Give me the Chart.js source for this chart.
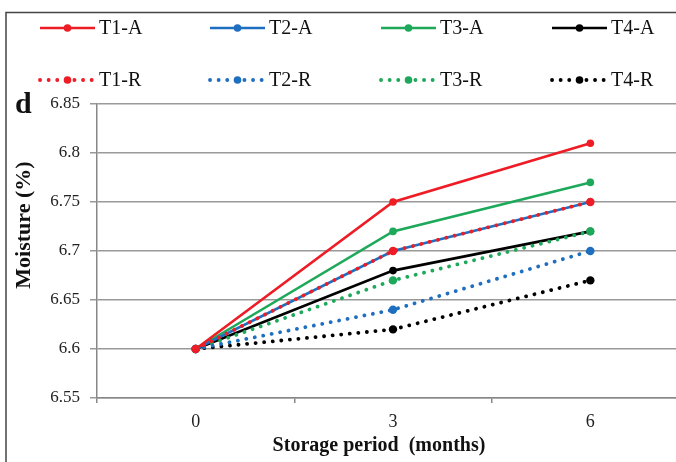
<!DOCTYPE html>
<html>
<head>
<meta charset="utf-8">
<script src="https://cdn.jsdelivr.net/npm/chart.js@4/dist/chart.umd.min.js"></script>
<style>
  html, body { margin: 0; padding: 0; overflow: hidden; background: #fff; }
  #wrap { width: 700px; height: 462px; }
</style>
</head>
<body>
<div id="wrap"><canvas id="moistChart" width="700" height="462"></canvas></div>
<script>
// dados do gráfico
const months = ['0', '3', '6'];
const t1a = [6.60, 6.75, 6.81];
const t2a = [6.60, 6.70, 6.75];
const t3a = [6.60, 6.72, 6.77];
const t4a = [6.60, 6.68, 6.72];
const t1r = [6.60, 6.70, 6.75];
const t2r = [6.60, 6.64, 6.70];
const t3r = [6.60, 6.67, 6.72];
const t4r = [6.60, 6.62, 6.67];
const yTicks = [6.55, 6.6, 6.65, 6.7, 6.75, 6.8, 6.85];

const SERIF = "'Liberation Serif', 'Times New Roman', serif";
Chart.defaults.font.family = SERIF;

const RED = '#ee1c25', BLUE = '#1f6fc0', GREEN = '#1ea95a', BLACK = '#000000';
const DOT = [0.1, 8.5];

function serie(label, data, color, dotted) {
  return {
    label: label,
    data: data,
    borderColor: color,
    backgroundColor: color,
    pointBackgroundColor: color,
    pointBorderWidth: 0,
    pointRadius: dotted ? 4.2 : 3.8,
    borderWidth: dotted ? 3.8 : 2.6,
    borderDash: dotted ? DOT : [],
    borderCapStyle: dotted ? 'round' : 'butt',
    tension: 0,
    fill: false,
    order: dotted ? 0 : 1
  };
}

const datasets = [
  serie('T1-A', t1a, RED, false),
  serie('T2-A', t2a, BLUE, false),
  serie('T3-A', t3a, GREEN, false),
  serie('T4-A', t4a, BLACK, false),
  serie('T1-R', t1r, RED, true),
  serie('T2-R', t2r, BLUE, true),
  serie('T3-R', t3r, GREEN, true),
  serie('T4-R', t4r, BLACK, true)
];

// moldura, legenda, letra "d" e títulos dos eixos
const extras = {
  id: 'extras',
  beforeDraw(chart) {
    const c = chart.ctx;
    c.save();
    c.fillStyle = '#fff';
    c.fillRect(0, 0, chart.width, chart.height);
    c.strokeStyle = '#444';
    c.lineWidth = 1.5;
    c.beginPath();
    c.moveTo(6, chart.height);
    c.lineTo(6, 12.5);
    c.lineTo(chart.width, 12.5);
    c.stroke();
    c.restore();
  },
  afterDraw(chart) {
    const c = chart.ctx;
    const cols = [40, 210, 381, 552];
    const rows = [28, 80];
    c.save();
    chart.data.datasets.forEach((ds, i) => {
      const x0 = cols[i % 4], y = rows[Math.floor(i / 4)];
      c.strokeStyle = ds.borderColor;
      c.lineWidth = ds.borderWidth;
      c.lineCap = ds.borderCapStyle;
      c.setLineDash(ds.borderDash);
      c.beginPath();
      c.moveTo(x0, y);
      c.lineTo(x0 + 55, y);
      c.stroke();
      c.setLineDash([]);
      c.fillStyle = ds.borderColor;
      c.beginPath();
      c.arc(x0 + 27.5, y, 3.8, 0, Math.PI * 2);
      c.fill();
      c.fillStyle = '#111';
      c.font = '20px ' + SERIF;
      c.textBaseline = 'middle';
      c.textAlign = 'left';
      c.fillText(ds.label, x0 + 59, y + 1);
    });
    c.fillStyle = '#111';
    c.font = 'bold 30px ' + SERIF;
    c.textBaseline = 'alphabetic';
    c.fillText('d', 15, 113);

    c.font = 'bold 20px ' + SERIF;
    c.textAlign = 'center';
    c.textBaseline = 'middle';
    c.fillText('Storage period  (months)', 379, 446);

    c.translate(24, 225);
    c.rotate(-Math.PI / 2);
    c.font = 'bold 22px ' + SERIF;
    c.fillText('Moisture (%)', 0, 0);
    c.restore();
  }
};

const ctx = document.getElementById('moistChart').getContext('2d');
const moistChart = new Chart(ctx, {
  type: 'line',
  data: { labels: months, datasets: datasets },
  plugins: [extras],
  options: {
    responsive: false,
    animation: false,
    layout: { padding: { top: 104, right: 11, bottom: 8, left: 0 } },
    plugins: {
      legend: { display: false },
      tooltip: { enabled: false }
    },
    scales: {
      x: {
        offset: true,
        grid: {
          offset: true,
          drawOnChartArea: false,
          drawTicks: true,
          tickLength: 5,
          color: '#888',
          lineWidth: 1.5
        },
        border: { color: '#888', width: 1.5 },
        ticks: {
          color: '#222',
          padding: 8,
          font: { family: SERIF, size: 18 }
        },
        afterFit(scale) { scale.height = 56; }
      },
      y: {
        min: 6.55,
        max: 6.85,
        afterBuildTicks(scale) { scale.ticks = yTicks.map(v => ({ value: v })); },
        grid: { color: '#999', lineWidth: 1.5, tickLength: 7 },
        border: { color: '#888', width: 1.5 },
        ticks: {
          color: '#222',
          padding: 10,
          font: { family: SERIF, size: 17 },
          callback: v => String(+v.toFixed(2))
        },
        afterFit(scale) { scale.width = 97; }
      }
    }
  }
});
</script>
</body>
</html>
